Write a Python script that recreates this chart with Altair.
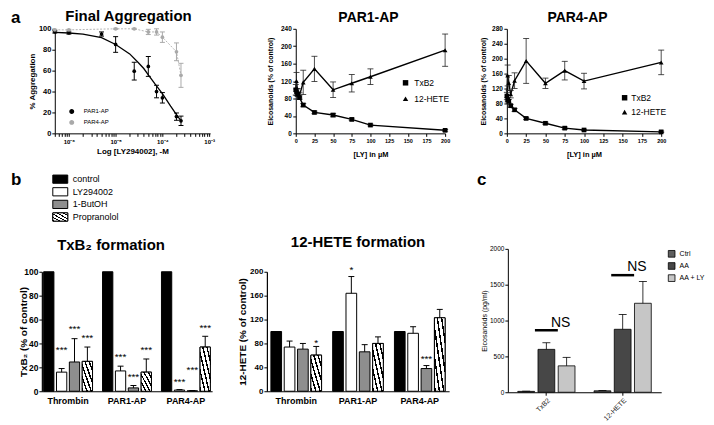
import altair as alt
import pandas as pd

FONT = "Liberation Sans"

# ---------------- data: panel a, Final Aggregation ----------------
agg_agonists = ["PAR1-AP", "PAR4-AP"]
agg_par1_conc = [5e-7, 1e-6, 5e-6, 1e-5, 2.5e-5, 5e-5, 7.5e-5, 1e-4, 2e-4, 2.5e-4]
agg_par1_mean = [97, 96, 95, 85, 59.5, 64, 40, 34, 16, 12]
agg_par1_sem = [1, 1, 2, 7.5, 8.5, 9.5, 6, 5, 3.5, 4.5]
agg_par4_conc = [5e-7, 1e-6, 1e-5, 2.5e-5, 5e-5, 7.5e-5, 1e-4, 2e-4, 2.5e-4]
agg_par4_mean = [99, 99, 100, 100, 97, 97, 92, 78, 55.5]
agg_par4_sem = [0.5, 0.5, 0.5, 0.5, 2.5, 3, 5, 8.5, 11.5]
fit_par1_conc = [5e-7, 1e-6, 2e-6, 5e-6, 1e-5, 2e-5, 3e-5, 4e-5, 5e-5, 7e-5, 1e-4, 1.5e-4, 2e-4, 2.6e-4]
fit_par1_pct = [96.5, 96, 95, 91.5, 85, 76, 68, 62, 56, 47, 38, 26, 18, 11]
agg_major_ticks = [1e-6, 1e-5, 1e-4, 1e-3]
agg_major_labels = ["10⁻⁶", "10⁻⁵", "10⁻⁴", "10⁻³"]
agg_mantissas = [2, 3, 4, 5, 6, 7, 8, 9]

# ---------------- data: panel a, PAR1-AP / PAR4-AP ----------------
ly_series = ["TxB2", "12-HETE"]
ly_conc = [0, 1, 2.5, 5, 10, 25, 50, 75, 100, 200]
par1_txb2 = [100, 95, 90, 82, 65, 48, 42, 32, 19, 7]
par1_txb2_sem = [0, 8, 5, 4, 4, 3, 4, 3, 2, 2]
par1_hete = [100, 120, 95, 87, 117, 148, 100, 115, 130, 191]
par1_hete_sem = [12, 20, 8, 6, 28, 29, 18, 20, 18, 37]
par4_txb2 = [100, 90, 86, 74, 63, 40, 27, 14, 9, 4]
par4_txb2_sem = [0, 6, 5, 4, 4, 3, 3, 3, 2, 2]
par4_hete = [100, 155, 135, 105, 141, 194, 134, 168, 140, 190]
par4_hete_sem = [10, 28, 20, 10, 21, 60, 14, 25, 21, 33]
ly_x_ticks = [0, 25, 50, 75, 100, 125, 150, 175, 200]

# ---------------- data: panel b ----------------
b_groups = ["Thrombin", "PAR1-AP", "PAR4-AP"]
b_treatments = ["control", "LY294002", "1-ButOH", "Propranolol"]
b_fills = ["black", "white", "#8e8e8e", "white"]
txb2_mean = [[100, 16, 24.5, 25], [100, 17, 2.8, 16], [100, 1, 0.4, 37]]
txb2_sem = [[0, 3, 19.5, 12], [0, 4, 2, 11], [0, 0.4, 0.2, 9]]
txb2_star = [["", "***", "***", "***"], ["", "***", "***", "***"], ["", "***", "***", "***"]]
txb2_star_y = [[None, 36.4, 54, 46.8], [None, 30.8, 14, 36.4], [None, 9.8, 19.6, 55.2]]
hete_mean = [[100, 74, 70.5, 60.5], [100, 164, 66, 80], [100, 97, 38, 123]]
hete_sem = [[0, 10, 9.5, 14.5], [0, 28, 12, 11], [0, 11, 5, 14]]
hete_star = [["", "", "", "*"], ["", "*", "", ""], ["", "", "***", ""]]
hete_star_y = [[None, None, None, 85.6], [None, 206.7, None, None], [None, None, 58.3, None]]

# ---------------- data: panel c ----------------
c_groups = ["TxB2", "12-HETE"]
c_treatments = ["Ctrl", "AA", "AA + LY"]
c_fills = ["#5e5e5e", "#474747", "#c6c6c6"]
c_mean = [[12, 598, 368], [20, 878, 1241]]
c_sem = [[3, 92, 119], [3, 207, 304]]
c_ns_text_y = [910, 1692]
c_ns_line_y = [865, 1633]

panel_letters = ["b", "c"]

# ---------------- helpers ----------------
HATCH_STOPS = []
for i in range(5):
    a = i / 5.0
    HATCH_STOPS += [{"offset": a, "color": "black"}, {"offset": a + 0.07, "color": "black"},
                    {"offset": a + 0.07, "color": "white"}, {"offset": a + 0.2, "color": "white"}]
HATCH = {"gradient": "linear", "x1": 0, "y1": 1, "x2": 1, "y2": 0, "stops": HATCH_STOPS}


def qaxis(values, title, lab_fs, tit_fs, tick=3, lpad=1, tpad=2, bold=True, dw=1, **kw):
    w = "bold" if bold else "normal"
    return alt.Axis(values=values, title=title, labelFont=FONT, titleFont=FONT,
                    labelFontSize=lab_fs, titleFontSize=tit_fs, labelFontWeight=w,
                    titleFontWeight=w, tickSize=tick, labelPadding=lpad, titlePadding=tpad,
                    grid=False, domainColor="black", tickColor="black", labelColor="black",
                    titleColor="black", domainWidth=dw, tickWidth=1, labelFlush=False,
                    labelOverlap=False, **kw)


def ptitle(text, size, offset, dx=0):
    return alt.TitleParams(text=text, font=FONT, fontSize=size, fontWeight="bold", color="black",
                           offset=offset, anchor="middle", frame="group", baseline="alphabetic", dx=dx)


def spacer(w, h):
    return alt.Chart(pd.DataFrame({"v": [0]})).mark_point(opacity=0).encode(
        x=alt.value(0), y=alt.value(0)).properties(width=w, height=h)


def indep(ch):
    return ch.resolve_scale(color="independent", fill="independent", shape="independent",
                            xOffset="independent").resolve_legend(
        color="independent", fill="independent", shape="independent")


# ---------------- panel a1 ----------------
rows = []
for c, m, s in zip(agg_par1_conc, agg_par1_mean, agg_par1_sem):
    rows.append(dict(conc=c, val=m, lo=m - s, hi=m + s, ag=agg_agonists[0]))
for c, m, s in zip(agg_par4_conc, agg_par4_mean, agg_par4_sem):
    rows.append(dict(conc=c, val=m, lo=m - s, hi=m + s, ag=agg_agonists[1]))
df_a1 = pd.DataFrame(rows)
df_fit = pd.DataFrame({"conc": fit_par1_conc, "val": fit_par1_pct})

agg_all_ticks = []
for e in (-7, -6, -5, -4, -3):
    for k in [1] + agg_mantissas:
        v = float(f"{k}e{e}")
        if 5e-7 <= v <= 1.0e-3:
            agg_all_ticks.append(v)
js_vals = "[" + ",".join(repr(v) for v in agg_major_ticks) + "]"
js_labs = "[" + ",".join("'" + l + "'" for l in agg_major_labels) + "]"
agg_expr = f"{js_labs}[indexof({js_vals}, datum.value)] || ''"

x_a1 = alt.X("conc:Q", scale=alt.Scale(type="log", domain=[5e-7, 1.05e-3]),
             axis=qaxis(agg_all_ticks, "Log [LY294002], -M", 6, 8, tick=3, lpad=2, tpad=3,
                        labelExpr=agg_expr))
ax_a1y = qaxis([0, 20, 40, 60, 80, 100], "% Aggregation", 7.5, 8, tick=3, lpad=1, tpad=2)


def y_a1(f):
    return alt.Y(f, scale=alt.Scale(domain=[0, 100]), axis=ax_a1y)


leg_a1 = alt.Legend(orient="none", legendX=14, legendY=80, title=None, labelFont=FONT,
                    labelFontSize=6, labelColor="black", symbolType="circle", symbolSize=12,
                    labelOffset=9, rowPadding=1, padding=0)
col_a1 = alt.Color("ag:N", scale=alt.Scale(domain=agg_agonists, range=["black", "#a9a9a9"]),
                   legend=leg_a1)
base_a1 = alt.Chart(df_a1)
a1 = alt.layer(
    base_a1.transform_filter("datum.ag == 'PAR4-AP'").mark_line(
        color="#b4b4b4", strokeWidth=1, strokeDash=[2, 1.5]).encode(x=x_a1, y=y_a1("val:Q")),
    alt.Chart(df_fit).mark_line(color="black", strokeWidth=1.3).encode(x=x_a1, y=y_a1("val:Q")),
    base_a1.mark_rule(strokeWidth=1).encode(x=x_a1, y=y_a1("lo:Q"), y2="hi:Q", color=col_a1),
    base_a1.mark_tick(orient="horizontal", size=5, thickness=1, opacity=1).encode(
        x=x_a1, y=y_a1("lo:Q"), color=col_a1),
    base_a1.mark_tick(orient="horizontal", size=5, thickness=1, opacity=1).encode(
        x=x_a1, y=y_a1("hi:Q"), color=col_a1),
    base_a1.mark_point(filled=True, size=14, opacity=1).encode(
        x=x_a1, y=y_a1("val:Q"), color=col_a1),
).properties(width=156, height=105, title=ptitle("Final Aggregation", 15, -11, dx=-4))


# ---------------- panels a2 / a3 ----------------
def ly_panel(txb2, txb2_s, hete, hete_s, ymax, yvals, width, ttl, tdx, lx, ly, loff, lrow, tpad_y):
    rows = []
    for x, m, s in zip(ly_conc, txb2, txb2_s):
        rows.append(dict(ly=x, val=m, lo=m - s, hi=m + s, series=ly_series[0]))
    for x, m, s in zip(ly_conc, hete, hete_s):
        rows.append(dict(ly=x, val=m, lo=m - s, hi=m + s, series=ly_series[1]))
    df = pd.DataFrame(rows)
    X = alt.X("ly:Q", scale=alt.Scale(domain=[0, 200]),
              axis=qaxis(ly_x_ticks, "[LY] in µM", 5.5, 7.5, tick=3, lpad=2, tpad=7))
    ax_y = qaxis(yvals, "Eicosanoids (% of control)", 6.5, 7, tick=3, lpad=1.5, tpad=tpad_y)

    def Y(f):
        return alt.Y(f, scale=alt.Scale(domain=[0, ymax]), axis=ax_y)

    shp = alt.Shape("series:N", scale=alt.Scale(domain=ly_series, range=["square", "triangle-up"]),
                    legend=alt.Legend(orient="none", legendX=lx, legendY=ly, title=None,
                                      labelFont=FONT, labelFontSize=8.5, labelColor="black",
                                      symbolFillColor="black", symbolStrokeColor="black",
                                      symbolSize=30, labelOffset=loff, rowPadding=lrow, padding=0))
    base = alt.Chart(df)
    errs = base.transform_filter("datum.hi > datum.lo")
    return alt.layer(
        base.mark_line(color="black", strokeWidth=1.4).encode(x=X, y=Y("val:Q"), detail="series:N"),
        errs.mark_rule(color="#222222", strokeWidth=0.8).encode(x=X, y=Y("lo:Q"), y2="hi:Q"),
        errs.mark_tick(orient="horizontal", size=6, thickness=0.8, color="#222222",
                       opacity=1).encode(x=X, y=Y("lo:Q")),
        errs.mark_tick(orient="horizontal", size=6, thickness=0.8, color="#222222",
                       opacity=1).encode(x=X, y=Y("hi:Q")),
        base.mark_point(filled=True, color="black", size=22, opacity=1).encode(
            x=X, y=Y("val:Q"), shape=shp),
    ).properties(width=width, height=105, title=ptitle(ttl, 14, -10, dx=tdx))


a2 = ly_panel(par1_txb2, par1_txb2_sem, par1_hete, par1_hete_sem, 240,
              [0, 40, 80, 120, 160, 200, 240], 150, "PAR1-AP", -2, 106, 50, 4.5, 4, 7)
a3 = ly_panel(par4_txb2, par4_txb2_sem, par4_hete, par4_hete_sem, 280,
              [0, 40, 80, 120, 160, 200, 240, 280], 155, "PAR4-AP", -6.5, 114, 65, 2.5, 2.5, 5)


# ---------------- panel b bar charts ----------------
def bar_panel(means, sems, stars, star_y, ymax, yvals, ytitle, width, height, pin, pout,
              ylab_fs, ytit_fs, tpad, ttl, tdx):
    rows = []
    for g, ms, ss, ts, ys in zip(b_groups, means, sems, stars, star_y):
        for t, m, s, st, sy in zip(b_treatments, ms, ss, ts, ys):
            rows.append(dict(grp=g, trt=t, val=m, top=m + s, sem=s, star=st, sy=sy))
    df = pd.DataFrame(rows)
    X = alt.X("grp:N", sort=b_groups,
              scale=alt.Scale(domain=b_groups, paddingInner=pin, paddingOuter=pout),
              axis=alt.Axis(title=None, labelAngle=0, labelFont=FONT, labelFontSize=9,
                            labelFontWeight="bold", labelColor="black", ticks=False,
                            labelPadding=5, domainColor="black", domainWidth=1.2))
    XO = alt.XOffset("trt:N", sort=b_treatments,
                     scale=alt.Scale(domain=b_treatments, paddingInner=0.2, paddingOuter=0))
    ax_y = qaxis(yvals, ytitle, ylab_fs, ytit_fs, tick=3, lpad=1, tpad=tpad, dw=1.2)

    def Y(f):
        return alt.Y(f, scale=alt.Scale(domain=[0, ymax]), axis=ax_y)

    base = alt.Chart(df)
    errs = base.transform_filter("datum.sem > 0")
    return alt.layer(
        base.mark_bar(stroke="black", strokeWidth=1, opacity=1).encode(
            x=X, xOffset=XO, y=Y("val:Q"),
            fill=alt.Fill("trt:N", scale=alt.Scale(domain=b_treatments, range=b_fills), legend=None)),
        base.transform_filter("datum.trt == 'Propranolol'").mark_bar(
            fill=HATCH, stroke="black", strokeWidth=1, opacity=1).encode(x=X, xOffset=XO, y=Y("val:Q")),
        errs.mark_rule(color="black", strokeWidth=1).encode(x=X, xOffset=XO, y=Y("val:Q"), y2="top:Q"),
        errs.mark_tick(orient="horizontal", size=6, thickness=1, color="black", opacity=1).encode(
            x=X, xOffset=XO, y=Y("top:Q")),
        base.transform_filter("datum.star != ''").mark_text(
            font=FONT, fontSize=10, baseline="alphabetic", dy=5.5, color="black").encode(
            x=X, xOffset=XO, y=Y("sy:Q"), text="star:N"),
    ).properties(width=width, height=height, title=ptitle(ttl, 15, 3, dx=tdx))


b1 = bar_panel(txb2_mean, txb2_sem, txb2_star, txb2_star_y, 100, [0, 20, 40, 60, 80, 100],
               "TxB₂ (% of control)", 171, 120, 0.17, 0.03, 8.5, 10, -5, "TxB₂ formation", -16)
b2 = bar_panel(hete_mean, hete_sem, hete_star, hete_star_y, 200, [0, 40, 80, 120, 160, 200],
               "12-HETE (% of control)", 183, 120, 0.18, 0.065, 8, 10, 2, "12-HETE formation", 0)

# ---------------- middle strip: legend of panel b and the letters b, c ----------------
leg_df = pd.DataFrame({"trt": b_treatments})
let_df = pd.DataFrame({"letter": panel_letters})
RECT = "M-1,-0.55L1,-0.55L1,0.55L-1,0.55Z"
Yl = alt.Y("trt:N", sort=b_treatments,
           scale=alt.Scale(domain=b_treatments, type="point", range=[151, 189], padding=0), axis=None)
middle = alt.layer(
    alt.Chart(leg_df).mark_point(shape=RECT, size=225, filled=True, stroke="black",
                                 strokeWidth=1, opacity=1).encode(
        x=alt.value(49.5), y=Yl,
        fill=alt.Fill("trt:N", scale=alt.Scale(domain=b_treatments, range=b_fills), legend=None)),
    alt.Chart(leg_df).transform_filter("datum.trt == 'Propranolol'").mark_point(
        shape=RECT, size=225, filled=True, fill=HATCH, stroke="black", strokeWidth=1,
        opacity=1).encode(x=alt.value(49.5), y=Yl),
    alt.Chart(leg_df).mark_text(align="left", baseline="middle", font=FONT, fontSize=9,
                                color="black").encode(x=alt.value(62), y=Yl, text="trt:N"),
    alt.Chart(let_df).mark_text(align="left", baseline="alphabetic", font=FONT, fontSize=17,
                                fontWeight="bold", color="black").encode(
        x=alt.X("letter:N", scale=alt.Scale(type="point", domain=panel_letters, range=[0, 468],
                                            padding=0), axis=None),
        y=alt.value(157), text="letter:N"),
).properties(width=480, height=221)

top_strip = alt.Chart(pd.DataFrame({"letter": ["a"]})).mark_text(
    align="left", baseline="alphabetic", font=FONT, fontSize=17, fontWeight="bold",
    color="black").encode(x=alt.value(0), y=alt.value(14), text="letter:N").properties(
    width=44, height=20)

# ---------------- panel c ----------------
rows = []
for g, ms, ss in zip(c_groups, c_mean, c_sem):
    for t, m, s in zip(c_treatments, ms, ss):
        rows.append(dict(grp=g, trt=t, val=m, top=m + s))
df_c = pd.DataFrame(rows)
df_ns = pd.DataFrame({"grp": c_groups, "ty": c_ns_text_y, "ly": c_ns_line_y})
sc_cx = alt.Scale(domain=c_groups, paddingInner=0.25, paddingOuter=0.13)
ax_cx = alt.Axis(title=None, labelAngle=-45, labelFont=FONT, labelFontSize=7, labelColor="#222222",
                 tickSize=3, tickColor="black", labelPadding=1, domainColor="black",
                 domainWidth=1.2)
Xc = alt.X("grp:N", sort=c_groups, scale=sc_cx, axis=ax_cx)
Xc_ns = alt.X("grp:N", sort=c_groups, scale=sc_cx, axis=ax_cx, bandPosition=0.75)
XOc = alt.XOffset("trt:N", sort=c_treatments,
                  scale=alt.Scale(domain=c_treatments, paddingInner=0.17, paddingOuter=0))
ax_cy = qaxis([0, 500, 1000, 1500, 2000], "Eicosanoids (pg/ml)", 6.5, 7, tick=3, lpad=1,
              tpad=2, bold=False, format="d")


def Yc(f):
    return alt.Y(f, scale=alt.Scale(domain=[0, 2000]), axis=ax_cy)


leg_c = alt.Legend(orient="none", legendX=160.5, legendY=1, title=None, labelFont=FONT,
                   labelFontSize=7, labelColor="black", symbolType="square", symbolSize=45,
                   symbolStrokeColor="black", symbolStrokeWidth=0.8, labelOffset=4,
                   rowPadding=2.2, padding=0)
base_c = alt.Chart(df_c)
c_chart = alt.layer(
    base_c.mark_bar(stroke="black", strokeWidth=0.8, opacity=1).encode(
        x=Xc, xOffset=XOc, y=Yc("val:Q"),
        fill=alt.Fill("trt:N", scale=alt.Scale(domain=c_treatments, range=c_fills), legend=leg_c)),
    base_c.mark_rule(color="black", strokeWidth=0.8).encode(x=Xc, xOffset=XOc, y=Yc("val:Q"), y2="top:Q"),
    base_c.mark_tick(orient="horizontal", size=8, thickness=0.8, color="black", opacity=1).encode(
        x=Xc, xOffset=XOc, y=Yc("top:Q")),
    alt.Chart(df_ns).mark_tick(orient="horizontal", size=23, thickness=2.5, color="black",
                               opacity=1).encode(x=Xc_ns, y=Yc("ly:Q")),
    alt.Chart(df_ns).mark_text(text="NS", font=FONT, fontSize=14, baseline="alphabetic",
                               color="black").encode(x=Xc_ns, y=Yc("ty:Q")),
).properties(width=154, height=144)

# ---------------- layout ----------------
row_a = indep(alt.hconcat(spacer(44, 1), a1, spacer(86, 1), a2, spacer(62, 1), a3,
                          spacing=0, bounds="flush"))
row_c = indep(alt.hconcat(spacer(499, 1), c_chart, spacing=0, bounds="flush"))
row_b = indep(alt.hconcat(spacer(31, 1), b1, spacer(55, 1), b2, spacing=0, bounds="flush"))

chart = indep(alt.vconcat(top_strip, row_a, middle, row_c, spacer(1, 23), row_b,
                          spacing=0, bounds="flush")).properties(
    padding=0, background="white"
).configure(font=FONT).configure_view(stroke=None)

chart.save("out.html", embed_options={"renderer": "svg", "actions": False})
